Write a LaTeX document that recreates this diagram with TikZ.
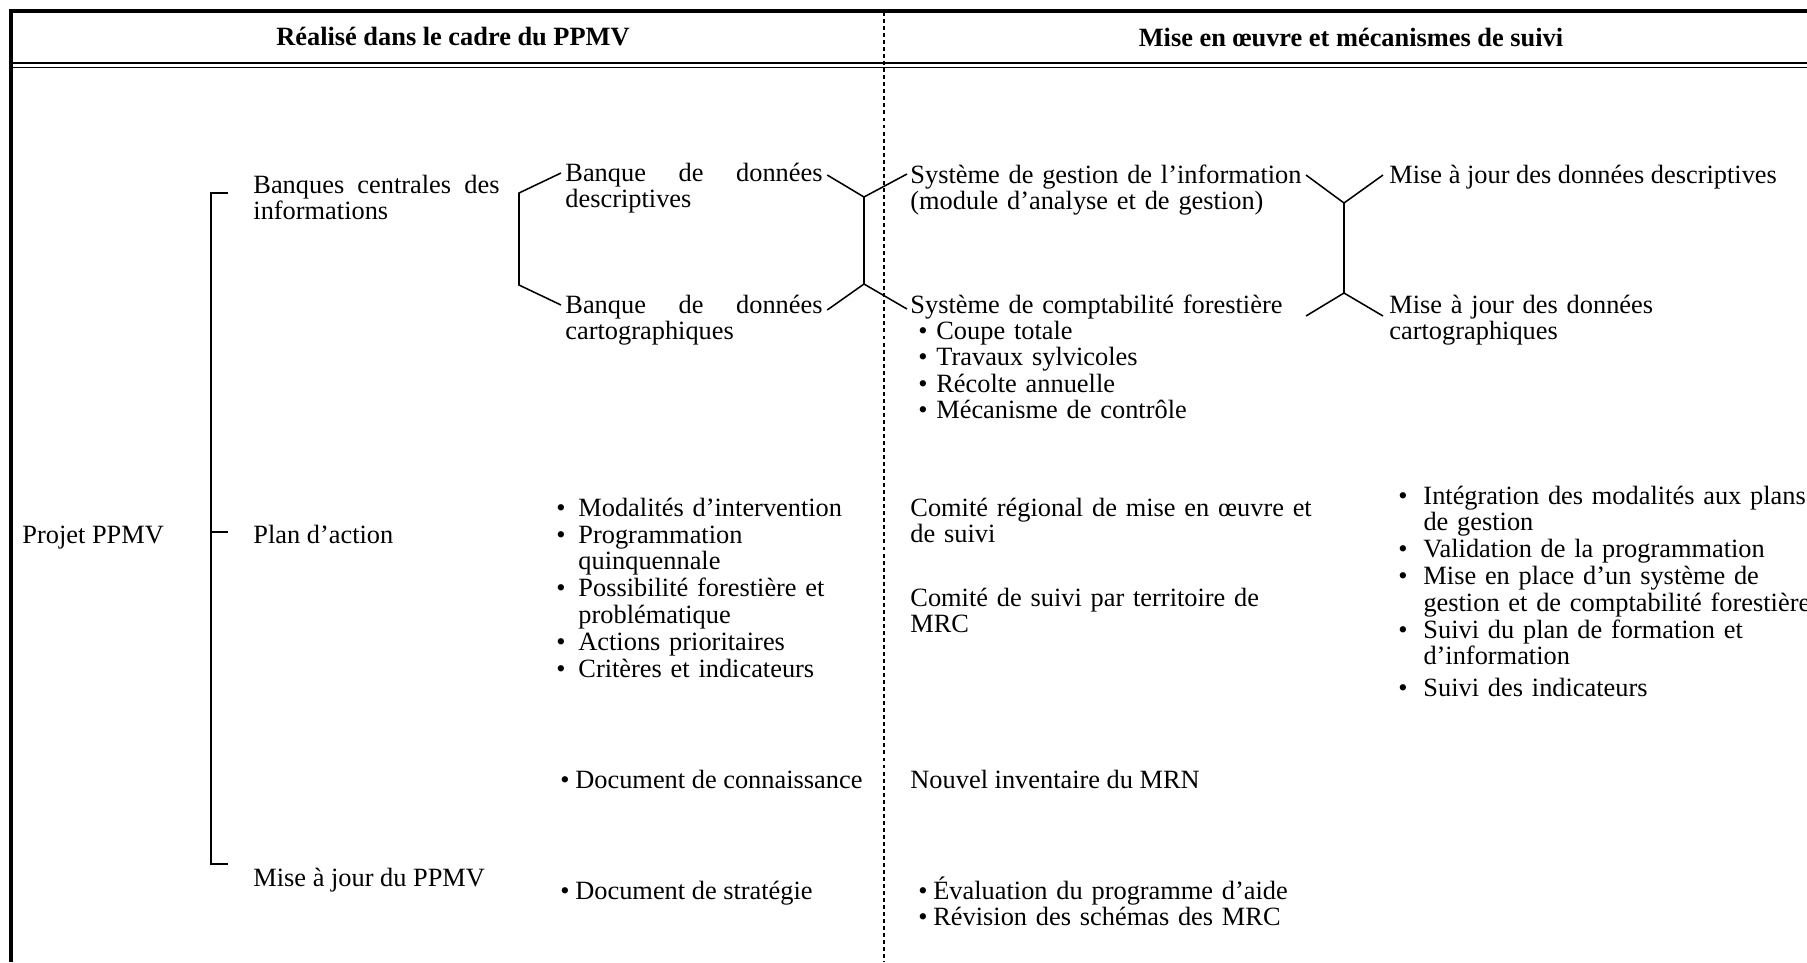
\documentclass[tikz,border=0pt]{standalone}
\usepackage{fontspec}
\setmainfont{Liberation Serif}
\usetikzlibrary{calc}

\newcommand{\bl}[1]{\makebox[#1][l]{\textbullet}}
\newcommand{\nl}[1]{\hspace*{#1}}
\newcommand{\spread}[4]{\hbox to #1{#2\hfill#3\hfill#4}}

\begin{document}
\begin{tikzpicture}[x=0.455pt, y=-0.455pt,
    txt/.style={inner sep=0pt, anchor=base west, font=\fontsize{12}{12}\selectfont},
    para/.style={txt, text width=#1, align=left},
    head/.style={inner sep=0pt, font=\fontsize{12}{12}\selectfont\bfseries},
    heavy/.style={line width=1.8pt},
    double/.style={line width=0.9pt},
    link/.style={line width=0.7pt},
    split/.style={line width=0.6pt, dash pattern=on 1.8pt off 1.4pt}
  ]
  \useasboundingbox (0,0) rectangle (1807,962);

  % table frame
  \draw[heavy] (9,11) -- (1807,11);
  \draw[heavy] (11,9) -- (11,962);
  \draw[double] (11,63) -- (1807,63);
  \draw[double] (11,67.5) -- (1807,67.5);
  \draw[split] (884,12) -- (884,962);

  % headings
  \node[head] (hdr-l) at (453,37) {Réalisé dans le cadre du PPMV};
  \node[head] (hdr-r) at (1351,37) {Mise en œuvre et mécanismes de suivi};

  % left part
  \node[txt] (projet) at (22,543) {Projet PPMV};
  \node[para=114pt] (banques) at (253,193) {\spread{112pt}{Banques}{centrales}{des}\\informations};
  \node[txt] (plan) at (253,543) {Plan d’action};
  \node[txt] (majppmv) at (253,886) {Mise à jour du PPMV};

  \node[para=118pt] (bqdesc) at (565,181) {\spread{117pt}{Banque}{de}{données}\\descriptives};
  \node[para=118pt] (bqcart) at (565,313) {\spread{117pt}{Banque}{de}{données}\\cartographiques};

  \node[para=140pt] (plan-items) at (556,516) {\bl{10pt}Modalités d’intervention\\[0.4pt]
    \bl{10pt}Programmation\\ \nl{10pt}quinquennale\\[0.4pt]
    \bl{10pt}Possibilité forestière et\\ \nl{10pt}problématique\\[0.4pt]
    \bl{10pt}Actions prioritaires\\[0.4pt]
    \bl{10pt}Critères et indicateurs};
  \node[txt] (docconn) at (560,788) {\bl{6.8pt}Document de connaissance};
  \node[txt] (docstrat) at (560,899) {\bl{6.8pt}Document de stratégie};

  % right part
  \node[para=190pt] (sysgest) at (910,183) {Système de gestion de l’information\\(module d’analyse et de gestion)};
  \node[para=190pt] (syscompt) at (910,313) {Système de comptabilité forestière\\
    \nl{3.6pt}\bl{8.2pt}Coupe totale\\
    \nl{3.6pt}\bl{8.2pt}Travaux sylvicoles\\
    \nl{3.6pt}\bl{8.2pt}Récolte annuelle\\
    \nl{3.6pt}\bl{8.2pt}Mécanisme de contrôle};
  \node[para=190pt] (comreg) at (910,516) {Comité régional de mise en œuvre et\\de suivi};
  \node[para=190pt] (comsuivi) at (910,606) {Comité de suivi par territoire de\\MRC};
  \node[txt] (nouvinv) at (910,788) {Nouvel inventaire du MRN};
  \node[para=190pt] (evalrev) at (918,899) {\bl{6.8pt}Évaluation du programme d’aide\\
    \bl{6.8pt}Révision des schémas des MRC};

  \node[txt] (majdesc) at (1389,183) {Mise à jour des données descriptives};
  \node[para=190pt] (majcart) at (1389,313) {Mise à jour des données\\cartographiques};
  \node[para=190pt] (suivi-items) at (1398,504) {\bl{11.4pt}Intégration des modalités aux plans\\
    \nl{11.4pt}de gestion\\[0.4pt]
    \bl{11.4pt}Validation de la programmation\\[0.4pt]
    \bl{11.4pt}Mise en place d’un système de\\
    \nl{11.4pt}gestion et de comptabilité forestière\\[0.4pt]
    \bl{11.4pt}Suivi du plan de formation et\\
    \nl{11.4pt}d’information\\[2.2pt]
    \bl{11.4pt}Suivi des indicateurs};

  % main bracket
  \coordinate (tk-a) at ($(banques.base west)+(-25,0)$);
  \coordinate (tk-b) at ($(plan.base west)+(-25,-11)$);
  \coordinate (tk-c) at ($(majppmv.base west)+(-25,-22)$);
  \draw[link] (tk-a) -- ++(-17,0) |- (tk-c);
  \draw[link] (tk-b) -- ++(-17,0);

  % bracket of the two banks
  \coordinate (bq-a) at ($(bqdesc.base west)+(-4,-8)$);
  \coordinate (bq-b) at ($(bqcart.base west)+(-4,-8)$);
  \draw[link] (bq-a) -- ++(-42,20) -- ($(bq-b)+(-42,-20)$) -- (bq-b);

  % banks to systems
  \coordinate (jl-a) at (864,197);
  \coordinate (jl-b) at (864,284);
  \draw[link] ($(bqdesc.base east)+(2,-6)$) -- (jl-a) -- ($(sysgest.base west)+(-3,-9)$);
  \draw[link] ($(bqcart.base east)+(2,-3)$) -- (jl-b) -- ($(syscompt.base west)+(-3,-4)$);
  \draw[link] (jl-a) -- (jl-b);

  % systems to updates
  \coordinate (jr-a) at ($(majdesc.base west)+(-45,20)$);
  \coordinate (jr-b) at ($(majcart.base west)+(-45,-20)$);
  \draw[link] ($(majdesc.base west)+(-83,-8)$) -- (jr-a) -- ($(majdesc.base west)+(-6,-8)$);
  \draw[link] ($(majcart.base west)+(-83,3)$) -- (jr-b) -- ($(majcart.base west)+(-6,3)$);
  \draw[link] (jr-a) -- (jr-b);
\end{tikzpicture}
\end{document}
